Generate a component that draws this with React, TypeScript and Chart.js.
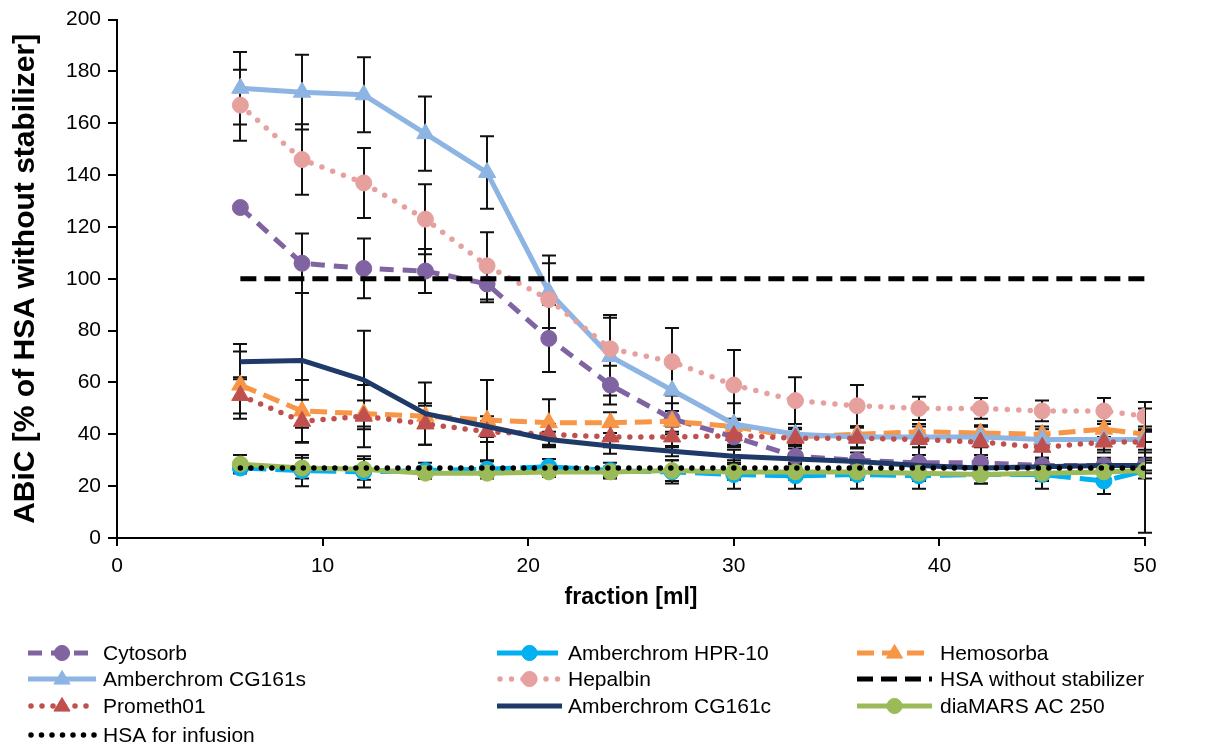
import { useEffect, useRef } from "react";
import { Chart, registerables } from "chart.js";

Chart.register(...registerables);

const fractions = [6, 9, 12, 15, 18, 21, 24, 27, 30, 33, 36, 39, 42, 45, 48, 50];
const xTickValues = [0, 10, 20, 30, 40, 50];
const yTickValues = [0, 20, 40, 60, 80, 100, 120, 140, 160, 180, 200];

const seriesNames = [
  "Cytosorb",
  "Amberchrom HPR-10",
  "Hemosorba",
  "Amberchrom CG161s",
  "Hepalbin",
  "HSA without stabilizer",
  "Prometh01",
  "Amberchrom CG161c",
  "diaMARS AC 250",
  "HSA for infusion",
];

const cytosorb = [127.5, 106, 104, 103, 98, 77, 59, 46, 39, 31.5, 30, 29, 29, 28, 28, 28];
const cytosorbErr = [0, 11.5, 11.5, 8.5, 7, 13, 7.5, 6, 4, 4, 3, 3, 3, 3, 3, 3];
const hpr10 = [27, 26, 25.5, 26, 26.5, 27.5, 26, 25.5, 24.5, 24, 24.5, 24, 24.5, 24.5, 22, 26];
const hpr10Err = [2, 6, 6, 3, 3, 3, 3, 4.5, 5.5, 5, 5.5, 5, 3.5, 5.5, 5, 24];
const hemosorba = [59, 49, 48, 47, 45.5, 44.5, 44.5, 45, 43, 39, 40, 41, 40.5, 40, 42, 40];
const hemosorbaErr = [13, 12, 5, 4, 15.5, 9, 4, 4, 3, 3, 3, 3, 3, 3, 3, 3];
const cg161s = [173.5, 172, 171, 156, 141, 95, 70, 57, 44, 40, 39, 39, 39, 38, 38, 38];
const cg161sErr = [14, 14.4, 14.5, 14.3, 14, 14, 15, 10, 8, 4, 4, 4, 4, 4, 4, 4];
const hepalbin = [167, 146, 137, 123, 105, 92, 73, 68, 59, 53, 51, 50, 50, 49, 49, 47];
const hepalbinErr = [13.7, 13.6, 13.5, 13.5, 13, 14, 13, 13, 13.5, 9, 8, 4.5, 4, 4, 5, 5.5];
const hsaWithout = [100, 100, 100, 100, 100, 100, 100, 100, 100, 100, 100, 100, 100, 100, 100, 100];
const prometh01 = [55, 45, 47, 44, 41, 40, 39, 39, 39.5, 38.5, 38.5, 38, 37, 35, 37, 37];
const prometh01Err = [7, 8.3, 12, 8, 4, 4, 4, 4, 4, 4, 4, 6, 6, 4, 4, 4];
const cg161c = [68, 68.5, 61, 48, 43, 38, 35.5, 33.5, 31.5, 30.5, 29.5, 28, 27, 27.5, 28, 28];
const cg161cErr = [6.8, 26, 19, 12, 4, 3, 3, 2, 2.5, 2, 2, 2, 2, 2, 2, 2];
const diamars = [28.5, 27, 26.5, 25, 25, 25.5, 25.5, 26, 25.5, 25.5, 25.5, 25, 24.5, 25, 25.5, 26];
const diamarsErr = [3.5, 4, 4, 2, 2, 2, 2, 4, 3, 3, 3, 3, 3.5, 3, 3, 3];
const hsaInfusion = [27, 27, 27, 27, 27, 27, 27, 27, 27, 27, 27, 27, 27, 27, 27, 27];

const FONT = '"Liberation Sans", Arial, sans-serif';

type Style = {
  color: string;
  dash: number[];
  cap: CanvasLineCap;
  width: number;
  point: string | false;
  radius: number;
};

const styles: Style[] = [
  { color: "#8064A2", dash: [14, 9], cap: "butt", width: 5, point: "circle", radius: 8 },
  { color: "#00B0F0", dash: [26, 9], cap: "butt", width: 5, point: "circle", radius: 8 },
  { color: "#F79646", dash: [17, 8], cap: "butt", width: 5, point: "triangle", radius: 10 },
  { color: "#8DB4E2", dash: [], cap: "butt", width: 5, point: "triangle", radius: 10 },
  { color: "#E6A09E", dash: [0, 11.5], cap: "round", width: 5.5, point: "circle", radius: 8 },
  { color: "#000000", dash: [16, 8], cap: "butt", width: 5, point: false, radius: 0 },
  { color: "#C0504D", dash: [0, 11], cap: "round", width: 5.5, point: "triangle", radius: 10 },
  { color: "#1F3A68", dash: [], cap: "butt", width: 5, point: false, radius: 0 },
  { color: "#9BBB59", dash: [], cap: "butt", width: 5, point: "circle", radius: 8 },
  { color: "#000000", dash: [0, 10.5], cap: "round", width: 5.5, point: false, radius: 0 },
];

const values = [cytosorb, hpr10, hemosorba, cg161s, hepalbin, hsaWithout, prometh01, cg161c, diamars, hsaInfusion];
const errors: (number[] | null)[] = [
  cytosorbErr, hpr10Err, hemosorbaErr, cg161sErr, hepalbinErr, null, prometh01Err, cg161cErr, diamarsErr, null,
];

const legendCols = [
  { x0: 28, x1: 96, tx: 103 },
  { x0: 497, x1: 562, tx: 568 },
  { x0: 857, x1: 932, tx: 940 },
];
const legendRows = [653, 679, 706, 735];

function drawMarker(ctx: CanvasRenderingContext2D, style: string, r: number, x: number, y: number, color: string) {
  ctx.save();
  ctx.setLineDash([]);
  ctx.fillStyle = color;
  ctx.strokeStyle = color;
  ctx.lineWidth = 1;
  ctx.beginPath();
  if (style === "circle") {
    ctx.arc(x, y, r * 0.95, 0, Math.PI * 2);
  } else {
    const s = r * 0.85;
    ctx.moveTo(x, y - s);
    ctx.lineTo(x + s * 0.95, y + s * 0.6);
    ctx.lineTo(x - s * 0.95, y + s * 0.6);
    ctx.closePath();
  }
  ctx.fill();
  ctx.stroke();
  ctx.restore();
}

const errorBarPlugin = {
  id: "errorBars",
  beforeDatasetsDraw(chart: any) {
    const ctx = chart.ctx as CanvasRenderingContext2D;
    const xs = chart.scales.x;
    const ys = chart.scales.y;
    ctx.save();
    ctx.strokeStyle = "#111";
    ctx.lineWidth = 2;
    ctx.setLineDash([]);
    errors.forEach((errs, si) => {
      if (!errs) return;
      const vals = values[si];
      errs.forEach((e, i) => {
        if (e == null || e <= 0) return;
        const px = Math.round(xs.getPixelForValue(fractions[i]));
        const top = ys.getPixelForValue(vals[i] + e);
        const bot = ys.getPixelForValue(Math.max(0, vals[i] - e));
        ctx.beginPath();
        ctx.moveTo(px, top);
        ctx.lineTo(px, bot);
        ctx.moveTo(px - 7, top);
        ctx.lineTo(px + 7, top);
        ctx.moveTo(px - 7, bot);
        ctx.lineTo(px + 7, bot);
        ctx.stroke();
      });
    });
    ctx.restore();
  },
};

const legendPlugin = {
  id: "gridLegend",
  afterDraw(chart: any) {
    const ctx = chart.ctx as CanvasRenderingContext2D;
    ctx.save();
    seriesNames.forEach((name, i) => {
      const col = legendCols[i % 3];
      const y = legendRows[Math.floor(i / 3)];
      const st = styles[i];
      ctx.save();
      ctx.strokeStyle = st.color;
      ctx.lineWidth = st.width;
      ctx.lineCap = st.cap;
      ctx.setLineDash(st.dash);
      ctx.beginPath();
      ctx.moveTo(col.x0 + (st.cap === "round" ? 3 : 0), y);
      ctx.lineTo(col.x1, y);
      ctx.stroke();
      ctx.restore();
      if (st.point) {
        drawMarker(ctx, st.point, st.radius, (col.x0 + col.x1) / 2, y, st.color);
      }
      ctx.fillStyle = "#000";
      ctx.font = `21px ${FONT}`;
      ctx.textBaseline = "middle";
      ctx.textAlign = "left";
      ctx.fillText(name, col.tx, y + 1);
    });
    ctx.restore();
  },
};

export default function App() {
  const canvasRef = useRef<HTMLCanvasElement | null>(null);

  useEffect(() => {
    const canvas = canvasRef.current;
    if (!canvas) return;
    Chart.defaults.font.family = FONT;
    Chart.defaults.color = "#000";
    const n = seriesNames.length;
    const datasets = seriesNames.map((name, i) => {
      const st = styles[i];
      return {
        label: name,
        data: fractions.map((f, k) => ({ x: f, y: values[i][k] })),
        borderColor: st.color,
        backgroundColor: st.color,
        borderWidth: st.width,
        borderDash: st.dash,
        borderCapStyle: st.cap,
        borderJoinStyle: "round" as CanvasLineJoin,
        pointStyle: st.point || "circle",
        pointRadius: st.point ? st.radius : 0,
        pointBorderWidth: 1,
        pointBorderColor: st.color,
        pointBackgroundColor: st.color,
        pointHoverRadius: 0,
        tension: 0,
        fill: false,
        order: n - i,
      };
    });

    const chart = new Chart(canvas, {
      type: "line",
      data: { datasets: datasets as any },
      options: {
        animation: false,
        responsive: true,
        maintainAspectRatio: false,
        events: [],
        layout: { padding: { left: 6, right: 61, top: 19, bottom: 137 } },
        plugins: {
          legend: { display: false },
          tooltip: { enabled: false },
          title: { display: false },
        },
        scales: {
          x: {
            type: "linear",
            min: 0,
            max: 50,
            afterBuildTicks: (scale: any) => {
              scale.ticks = xTickValues.map((v) => ({ value: v }));
            },
            afterFit: (scale: any) => {
              scale.height = 73;
            },
            ticks: {
              font: { size: 21 },
              padding: 8,
              maxRotation: 0,
              autoSkip: false,
              color: "#000",
            },
            grid: {
              display: true,
              drawOnChartArea: false,
              drawTicks: true,
              tickLength: 8,
              color: "#000",
              lineWidth: 2,
            },
            border: { display: true, color: "#000", width: 2 },
            title: {
              display: true,
              text: "fraction [ml]",
              font: { size: 23, weight: "bold" },
              color: "#000",
              padding: { top: 0, bottom: 0 },
            },
          },
          y: {
            type: "linear",
            min: 0,
            max: 200,
            afterBuildTicks: (scale: any) => {
              scale.ticks = yTickValues.map((v) => ({ value: v }));
            },
            afterFit: (scale: any) => {
              scale.width = 111;
            },
            ticks: {
              font: { size: 21 },
              padding: 7,
              autoSkip: false,
              color: "#000",
            },
            grid: {
              display: true,
              drawOnChartArea: false,
              drawTicks: true,
              tickLength: 9,
              color: "#000",
              lineWidth: 2,
            },
            border: { display: true, color: "#000", width: 2 },
            title: {
              display: true,
              text: "ABiC [% of HSA without stabilizer]",
              font: { size: 30, weight: "bold" },
              color: "#000",
              padding: { top: 2, bottom: 0 },
            },
          },
        },
      },
      plugins: [errorBarPlugin, legendPlugin],
    });
    return () => chart.destroy();
  }, []);

  return (
    <div style={{ position: "fixed", left: 0, top: 0, width: 1206, height: 748, background: "#fff" }}>
      <canvas ref={canvasRef} />
    </div>
  );
}
